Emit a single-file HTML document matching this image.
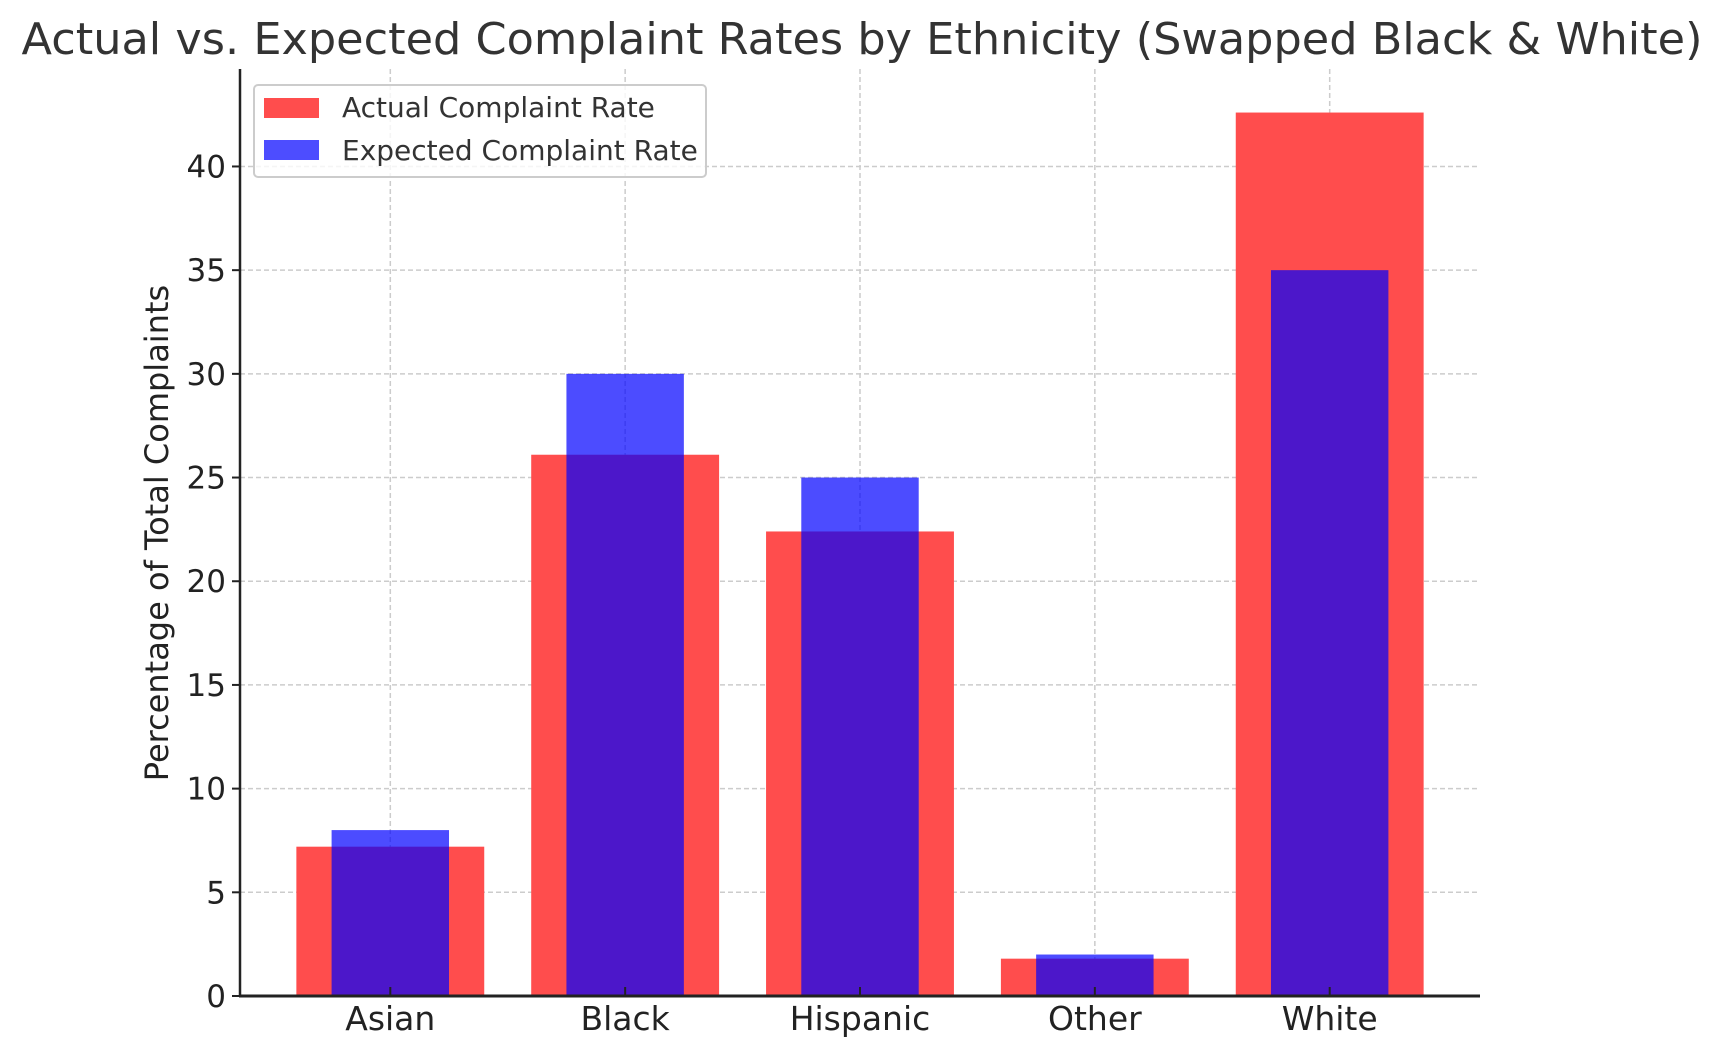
<!DOCTYPE html>
<html><head><meta charset="utf-8"><style>
html,body{margin:0;padding:0;background:#fff;}
svg text{font-family:"DejaVu Sans","Liberation Sans",sans-serif;}
</style></head><body>
<svg id="chart" width="1717" height="1057" xmlns="http://www.w3.org/2000/svg">
<rect width="1717" height="1057" fill="#fff"/>
<text x="862" y="54" font-size="44" fill="#333" text-anchor="middle" textLength="1681" lengthAdjust="spacingAndGlyphs">Actual vs. Expected Complaint Rates by Ethnicity (Swapped Black &amp; White)</text>
<g id="grid"></g><g id="bars"></g><g id="axes"></g>
<text transform="translate(168,533) rotate(-90)" font-size="32" fill="#222" text-anchor="middle">Percentage of Total Complaints</text>
<g>
<rect x="254" y="85" width="452" height="92" rx="4" fill="#fff" fill-opacity="0.8" stroke="#ccc" stroke-width="2"/>
<rect x="264" y="98" width="55" height="20" fill="#ff4d4d"/>
<text x="342" y="117" font-size="28" fill="#333">Actual Complaint Rate</text>
<rect x="264" y="140" width="55" height="20" fill="#4d4dff"/>
<text x="342" y="160" font-size="28" fill="#333">Expected Complaint Rate</text>
</g>
</svg>
<script>
const categories=["Asian","Black","Hispanic","Other","White"];
const actualValues=[7.2,26.1,22.4,1.8,42.6];
const expectedValues=[8,30,25,2,35];
const yTicks=[0,5,10,15,20,25,30,35,40];
const NS="http://www.w3.org/2000/svg";
const L=240,R=1480,T=69,B=996,xmin=-0.64,xmax=4.64,ymax=44.7;
const x=i=>L+(i-xmin)/(xmax-xmin)*(R-L);
const y=v=>B-v/ymax*(B-T);
const bw=(R-L)/(xmax-xmin);
function mk(tag,attrs,parent){const e=document.createElementNS(NS,tag);for(const k in attrs)e.setAttribute(k,attrs[k]);document.getElementById(parent).appendChild(e);return e;}
yTicks.forEach(t=>{
 if(t>0){const g=mk('line',{x1:L,x2:R,y1:y(t),y2:y(t),stroke:'#ccc','stroke-width':1.5,'stroke-dasharray':'5,3'},'grid');
 
 }
 const tk=mk('line',{x1:L-8,x2:L,y1:y(t),y2:y(t),stroke:'#222','stroke-width':2},'axes');
 
 
 const lb=mk('text',{x:L-14,y:y(t)+11,'font-size':31,fill:'#222','text-anchor':'end'},'axes');lb.textContent=t;
 
 
});
categories.forEach((c,i)=>{
 const g=mk('line',{x1:x(i),x2:x(i),y1:T,y2:B,stroke:'#ccc','stroke-width':1.5,'stroke-dasharray':'5,3'},'grid');
 
 
 const a=mk('rect',{x:x(i)-0.4*bw,width:0.8*bw,y:y(actualValues[i]),height:B-y(actualValues[i]),fill:'#ff4d4d'},'bars');
 
 
 const e=mk('rect',{x:x(i)-0.25*bw,width:0.5*bw,y:y(expectedValues[i]),height:B-y(expectedValues[i]),fill:'#0000ff','fill-opacity':0.7},'bars');
 
 
 const tk=mk('line',{x1:x(i),x2:x(i),y1:B-9,y2:B,stroke:'#222','stroke-width':2},'axes');
 
 
 const lb=mk('text',{x:x(i),y:1030,'font-size':33,fill:'#222','text-anchor':'middle'},'axes');lb.textContent=c;
 
 
});
const ly=mk('line',{x1:L,x2:L,y1:T,y2:B+1,stroke:'#222','stroke-width':2.5},'axes');


const lx=mk('line',{x1:L-1,x2:R,y1:B,y2:B,stroke:'#222','stroke-width':3},'axes');


</script>
</body></html>
